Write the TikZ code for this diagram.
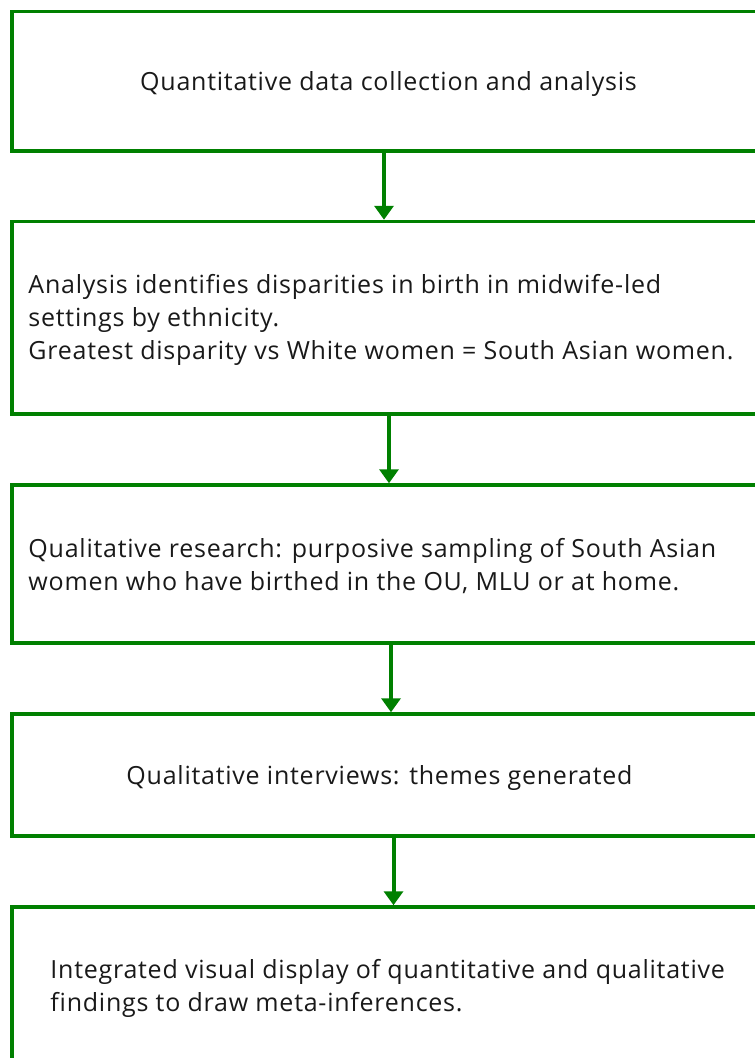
\documentclass[tikz,border=0pt]{standalone}
\usepackage{fontspec}
\setmainfont[Ligatures=NoCommon, LetterSpace=3.0]{Open Sans}
\usepackage{xcolor}
\usepackage{tikz}
\usetikzlibrary{positioning,arrows.meta,calc}
\definecolor{flowgreen}{HTML}{008000}
\tikzset{
  stagebox/.style={draw=flowgreen, line width=3.5pt, minimum width=753pt, inner sep=0pt},
  stagetext/.style={font=\fontsize{25}{33}\selectfont, text=black!90, align=left, inner sep=0pt, yshift=-2.5pt},
  flow/.style={draw=flowgreen, line width=4pt, -{Triangle[width=19pt,length=14pt]}}
}

\begin{document}
\begin{tikzpicture}[x=1pt, y=-1pt]
  \useasboundingbox (0,0) rectangle (755,1058);
  \clip (0,0) rectangle (755,1058);
  % boxes, running off the right edge of the page
  \node[stagebox, minimum height=139.5pt] (b1) at (388.5,81.25) {};
  \node[stagebox, minimum height=192.5pt] (b2) at (388.5,317.75) {};
  \node[stagebox, minimum height=158pt]   (b3) at (388.5,564) {};
  \node[stagebox, minimum height=122pt]   (b4) at (388.5,775) {};
  \node[stagebox, minimum height=157pt]   (b5) at (388.5,985.5) {};

  \node[stagetext] (t1) at (b1) {Quantitative data collection and analysis};
  \node[stagetext, anchor=west] (t2) at ([xshift=18pt]b2.west)
    {Analysis identifies disparities in birth in midwife-led\\
     settings by ethnicity.\\
     Greatest disparity vs White women = South Asian women.};
  \node[stagetext, anchor=west] (t3) at ([xshift=18pt]b3.west)
    {Qualitative research: purposive sampling of South Asian\\
     women who have birthed in the OU, MLU or at home.};
  \node[stagetext] (t4) at ([xshift=-9pt]b4.center) {Qualitative interviews: themes generated};
  \node[stagetext, anchor=west] (t5) at ([xshift=40pt]b5.west)
    {Integrated visual display of quantitative and qualitative\\
     findings to draw meta-inferences.};

  \draw[flow] ([xshift=-4.5pt]b1.south) -- ([xshift=-4.5pt]b1.south |- b2.north);
  \draw[flow] ([xshift=0.5pt]b2.south) -- ([xshift=0.5pt]b2.south |- b3.north);
  \draw[flow] ([xshift=2.5pt]b3.south) -- ([xshift=2.5pt]b3.south |- b4.north);
  \draw[flow] ([xshift=5pt]b4.south) -- ([xshift=5pt]b4.south |- b5.north);
\end{tikzpicture}
\end{document}
